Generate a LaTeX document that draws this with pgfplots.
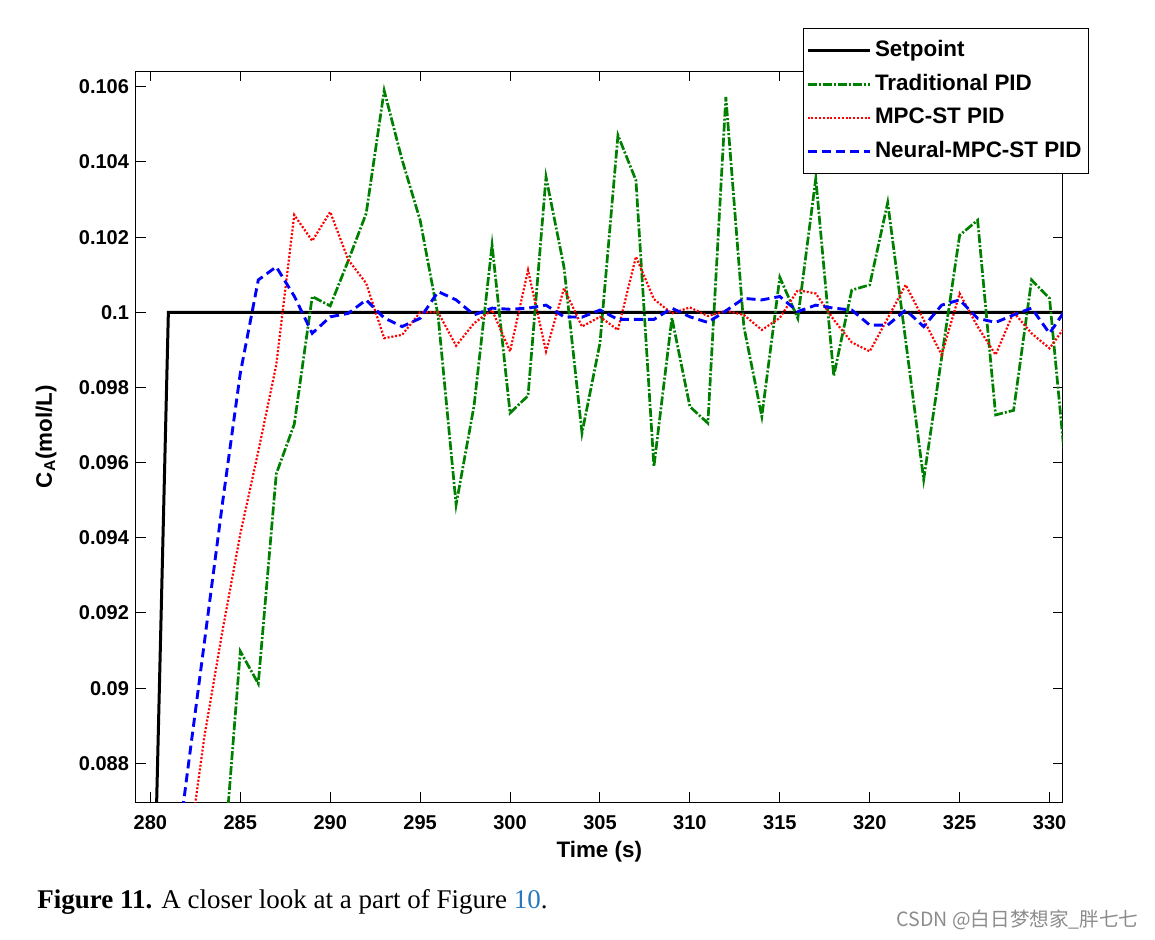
\documentclass[border=0pt]{standalone}
\usepackage{fontspec}
\setmainfont{Liberation Sans}
\newfontfamily\capfont{Liberation Serif}
\newfontfamily\cjk{Noto Sans CJK SC}
\usepackage{pgfplots}
\pgfplotsset{compat=1.18}
\definecolor{mgreen}{rgb}{0,0.5,0}
\definecolor{linkblue}{RGB}{40,120,190}

\begin{document}
\begin{tikzpicture}
\useasboundingbox (-68pt,-68.5pt) rectangle (509.5pt,401pt);
\begin{axis}[
  scale only axis, width=463.25pt, height=365.5pt,
  xmin=279.2, xmax=330.72, ymin=0.08697, ymax=0.10642,
  xtick={280,285,...,330},
  ytick={0.088,0.09,0.092,0.094,0.096,0.098,0.1,0.102,0.104,0.106},
  scaled y ticks=false, scaled x ticks=false,
  /pgf/number format/assume math mode=true,
  yticklabel style={/pgf/number format/fixed, /pgf/number format/precision=3},
  xticklabel style={yshift=-3.2pt, /pgf/number format/1000 sep={}},
  tick label style={font=\fontsize{10}{12}\selectfont\bfseries},
  axis line style={line width=0.5pt},
  every tick/.style={black, line width=0.5pt},
  major tick length=5pt,
  minor tick num=0,
  xlabel={Time (s)},
  xlabel style={font=\fontsize{11.2}{13}\selectfont\bfseries, at={(axis description cs:0.5,-0.068)}, anchor=center},
  ylabel={C\textsubscript{A}(mol/L)},
  ylabel style={font=\fontsize{11.2}{13}\selectfont\bfseries, at={(axis description cs:-0.0971,0.5)}, anchor=center},
  legend style={at={(1.0284,1.0584)}, anchor=north east, draw=black, line width=0.5pt, fill=white,
    inner xsep=1.35pt, inner ysep=3.35pt, row sep=1.83pt,
    font=\fontsize{11.2}{13}\selectfont\bfseries,
    nodes={inner sep=2pt, text height=8.5pt, text depth=2.5pt}},
  legend cell align=left,
  legend image code/.code={\draw[#1] (0pt,0pt) -- (31pt,0pt);},
]
\addplot[black, line width=1.5pt] coordinates {
(279,0.08) (280,0.08) (281,0.1) (331,0.1)};
\addlegendentry{Setpoint}

\addplot[mgreen, line width=1.35pt, dash pattern=on 4.5pt off 1pt on 1pt off 1pt] coordinates {
(284,0.0849) (285,0.09098) (286,0.09012) (287,0.09570) (288,0.09702) (289,0.10042)
(290,0.10017) (291,0.10137) (292,0.10263) (293,0.10590) (294,0.10405) (295,0.10245)
(296,0.09990) (297,0.09488) (298,0.09752) (299,0.10179) (300,0.09732) (301,0.09778)
(302,0.10360) (303,0.10120) (304,0.09679) (305,0.09918) (306,0.10471) (307,0.10351)
(308,0.09590) (309,0.09985) (310,0.09749) (311,0.09705) (312,0.10573) (313,0.09962)
(314,0.09723) (315,0.10093) (316,0.09984) (317,0.10356) (318,0.09831) (319,0.10059)
(320,0.10073) (321,0.10292) (322,0.09924) (323,0.09555) (324,0.09880) (325,0.10205)
(326,0.10245) (327,0.09727) (328,0.09739) (329,0.10086) (330,0.10037) (331,0.09531)};
\addlegendentry{Traditional PID}

\addplot[red, line width=1.1pt, dash pattern=on 1pt off 0.9pt] coordinates {
(281,0.0817) (282,0.0852) (283,0.0887) (284,0.0915) (285,0.0941) (286,0.0963)
(287,0.0986) (288,0.10259) (289,0.10190) (290,0.10267) (291,0.10140) (292,0.10077)
(293,0.09931) (294,0.09940) (295,0.1000) (296,0.1000) (297,0.09911) (298,0.09971)
(299,0.10006) (300,0.09896) (301,0.10112) (302,0.09896) (303,0.10064) (304,0.09962)
(305,0.09988) (306,0.09953) (307,0.10148) (308,0.10035) (309,0.09997) (310,0.10013)
(311,0.09990) (312,0.10004) (313,0.09993) (314,0.09953) (315,0.09985) (316,0.10059)
(317,0.10050) (318,0.09980) (319,0.09920) (320,0.09896) (321,0.09984) (322,0.10073)
(323,0.09980) (324,0.09887) (325,0.10050) (326,0.09962) (327,0.09887) (328,0.10000)
(329,0.09944) (330,0.09904) (331,0.09971)};
\addlegendentry{MPC-ST PID}

\addplot[blue, line width=1.45pt, dash pattern=on 4.5pt off 2.5pt] coordinates {
(281,0.0838) (282,0.08754) (283,0.09121) (284,0.09489) (285,0.09838) (286,0.10086)
(287,0.10121) (288,0.10043) (289,0.09944) (290,0.09988) (291,0.09997) (292,0.10033)
(293,0.09985) (294,0.09962) (295,0.09984) (296,0.10055) (297,0.10033) (298,0.09993)
(299,0.10011) (300,0.10008) (301,0.10011) (302,0.10019) (303,0.09988) (304,0.09987)
(305,0.10006) (306,0.09981) (307,0.09981) (308,0.09981) (309,0.10011) (310,0.09988)
(311,0.09973) (312,0.10004) (313,0.10037) (314,0.10033) (315,0.10042) (316,0.10002)
(317,0.10019) (318,0.10011) (319,0.10006) (320,0.09966) (321,0.09966) (322,0.10006)
(323,0.09962) (324,0.10019) (325,0.10033) (326,0.09984) (327,0.09973) (328,0.09993)
(329,0.10011) (330,0.09944) (331,0.10015)};
\addlegendentry{Neural-MPC-ST PID}
\end{axis}
\node[anchor=base west, inner sep=0pt] at (-49.5pt,-53.2pt)
  {\capfont\fontsize{13.5}{15}\selectfont\textbf{Figure 11.} A closer look at a part of Figure \textcolor{linkblue}{10}.};
\node[anchor=east, inner sep=0pt, text=black!45] at (501.5pt,-59pt)
  {\cjk\fontsize{9.8}{11}\selectfont CSDN @白日梦想家\_胖七七};
\end{tikzpicture}
\end{document}
